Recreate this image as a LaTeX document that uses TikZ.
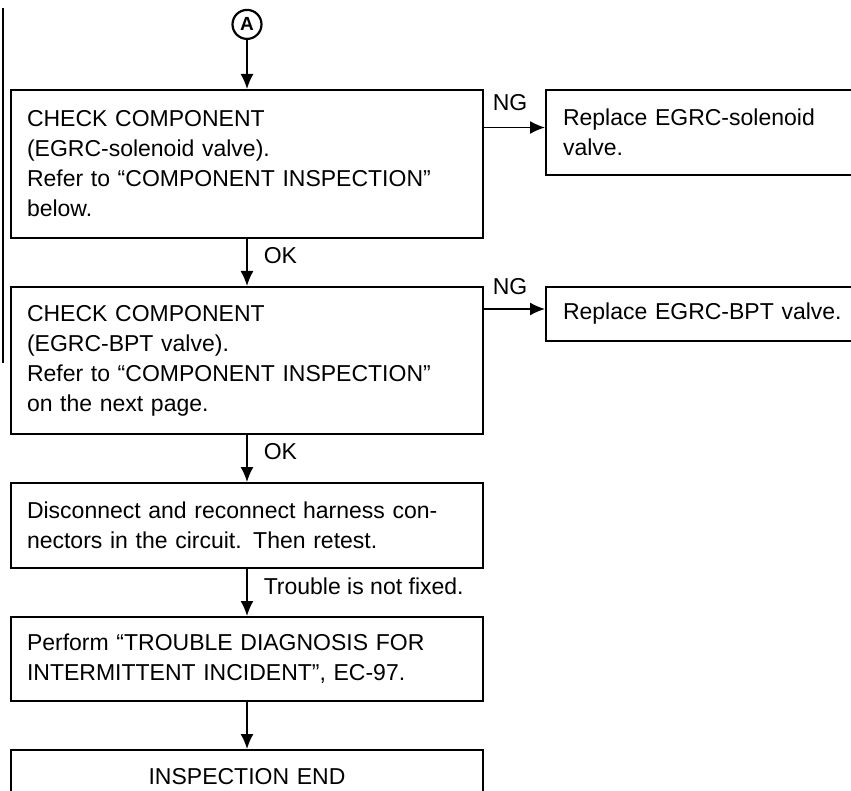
\documentclass[tikz,border=0pt]{standalone}
\usepackage{fontspec}
\setmainfont{Liberation Sans}
\usetikzlibrary{arrows.meta, positioning}

\begin{document}
\begin{tikzpicture}[
  node distance = 23.5pt and 30.5pt,
  box/.style = {
    rectangle, draw=black, line width=1pt,
    font=\fontsize{11.5}{15}\selectfont, align=left,
    text width=220pt, inner xsep=8pt, inner ysep=4pt
  },
  sidebox/.style = {box, text width=144pt, inner xsep=8.5pt},
  lbl/.style = {font=\fontsize{11.5}{15}\selectfont, inner sep=0pt},
  arr/.style = {-{Latex[length=7.5pt, width=6.5pt]}, line width=0.75pt}
]
\useasboundingbox (0,0) rectangle (425.5pt,-395.5pt);
\clip (0,0) rectangle (425.5pt,-395.5pt);
\draw[line width=1.2pt] (1.5pt,-4pt) -- (1.5pt,-181.5pt);
\node[box, minimum height=74pt, anchor=north west] (cksol) at (5pt,-44.5pt)
  {CHECK COMPONENT\\(EGRC-solenoid valve).\\Refer to “COMPONENT INSPECTION”\\below.};
\node[circle, draw, line width=1.1pt, minimum size=14.5pt, inner sep=0pt,
  font=\fontsize{9.5}{10}\selectfont\bfseries, above=24.5pt of cksol] (conA) {A};
\node[box, minimum height=73.5pt, below=of cksol] (ckbpt)
  {CHECK COMPONENT\\(EGRC-BPT valve).\\Refer to “COMPONENT INSPECTION”\\on the next page.};
\node[box, minimum height=42.5pt, below=of ckbpt] (recon)
  {Disconnect and reconnect harness con-\\nectors in the circuit. Then retest.};
\node[box, minimum height=42pt, below=of recon] (perf)
  {Perform “TROUBLE DIAGNOSIS FOR\\INTERMITTENT INCIDENT”, EC-97.};
\node[box, minimum height=27pt, align=center, below=of perf] (insend) {INSPECTION END};
\node[sidebox, minimum height=42.5pt, below right=0pt and 30.5pt of cksol.north east] (rsol)
  {Replace EGRC-solenoid\\valve.};
\node[sidebox, minimum height=27pt, below right=0pt and 30.5pt of ckbpt.north east] (rbpt)
  {Replace EGRC-BPT valve.};
\draw[arr] (conA) -- (cksol);
\draw[arr] ([yshift=2.5pt]rsol.west -| cksol.east) --
  node[lbl, pos=0, anchor=west, xshift=4pt, yshift=12.5pt]{NG} ([yshift=2.5pt]rsol.west);
\draw[arr] ([yshift=2.5pt]rbpt.west -| ckbpt.east) --
  node[lbl, pos=0, anchor=west, xshift=4pt, yshift=11pt]{NG} ([yshift=2.5pt]rbpt.west);
\draw[arr] (cksol) -- node[lbl, right=8pt, pos=0.35]{OK} (ckbpt);
\draw[arr] (ckbpt) -- node[lbl, right=8pt, pos=0.35]{OK} (recon);
\draw[arr] (recon) -- node[lbl, right=8pt, pos=0.37]{Trouble is not fixed.} (perf);
\draw[arr] (perf) -- (insend);
\end{tikzpicture}
\end{document}
